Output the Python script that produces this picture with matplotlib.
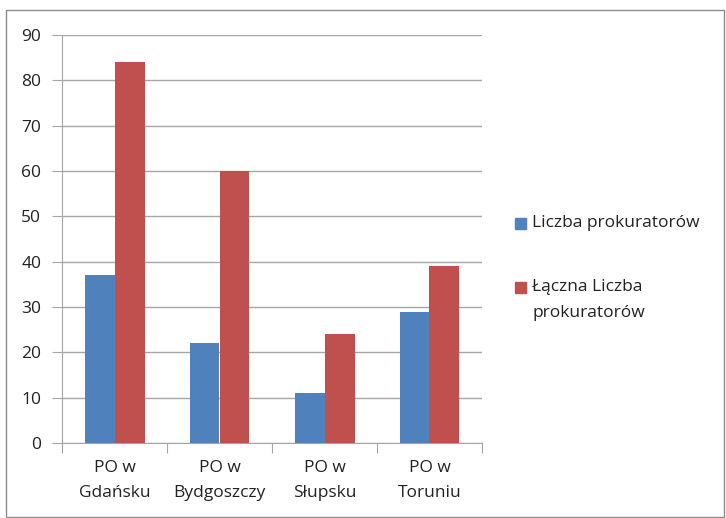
import matplotlib.pyplot as plt
from matplotlib.patches import Rectangle
import numpy as np

# dane
kategorie = ['PO w\nGdańsku', 'PO w\nBydgoszczy', 'PO w\nSłupsku', 'PO w\nToruniu']
liczba = [37, 22, 11, 29]
laczna = [84, 60, 24, 39]
serie = ['Liczba prokuratorów', 'Łączna Liczba\nprokuratorów']
kolory = ['#4F81BD', '#C0504D']

plt.rcParams['font.family'] = ['Open Sans', 'DejaVu Sans']
fs = 12.5

fig = plt.figure(figsize=(7.26, 5.18), dpi=100)
ax = fig.add_axes([62/726, 1 - 443/518, 420/726, 408/518])

x = np.arange(len(kategorie))
w = 30/105
ax.bar(x - w/2, liczba, w, color=kolory[0], zorder=3)
ax.bar(x + w/2, laczna, w, color=kolory[1], zorder=3)

ax.set_xlim(-0.5, len(kategorie) - 0.5)
ax.set_ylim(0, 90)
ax.set_yticks(range(0, 91, 10))
ax.yaxis.grid(True, color='#a6a6a6', linewidth=1, zorder=0)
for s in ['top', 'right']:
    ax.spines[s].set_visible(False)
for s in ['left', 'bottom']:
    ax.spines[s].set_color('#a6a6a6')
ax.tick_params(axis='y', length=7, color='#a6a6a6', labelsize=fs, pad=8, labelcolor='#222222')
# podziałki x na granicach kategorii
ax.set_xticks(np.arange(-0.5, len(kategorie), 1.0))
ax.set_xticklabels([])
ax.set_xticks(x, minor=True)
ax.set_xticklabels(kategorie, minor=True, fontsize=fs, color='#222222', linespacing=1.8)
ax.tick_params(axis='x', which='major', length=7, color='#a6a6a6')
ax.tick_params(axis='x', which='minor', length=0, pad=12)

# legenda
fig.patches.append(Rectangle((515/726, 1 - 229/518), 11/726, 11/518,
                             transform=fig.transFigure, color=kolory[0]))
fig.text(532/726, 1 - 223/518, serie[0], fontsize=fs, va='center', color='#222222')
fig.patches.append(Rectangle((515/726, 1 - 293/518), 11/726, 11/518,
                             transform=fig.transFigure, color=kolory[1]))
fig.text(532/726, 1 - 287/518, serie[1].split('\n')[0], fontsize=fs, va='center', color='#222222')
fig.text(532/726, 1 - 313/518, serie[1].split('\n')[1], fontsize=fs, va='center', color='#222222')

# ramka
fig.patches.append(Rectangle((6/726, 1 - 517/518), 718/726, 507/518,
                             transform=fig.transFigure, fill=False, edgecolor='#8c8c8c', linewidth=1))

fig.savefig('out.png', dpi=100)
